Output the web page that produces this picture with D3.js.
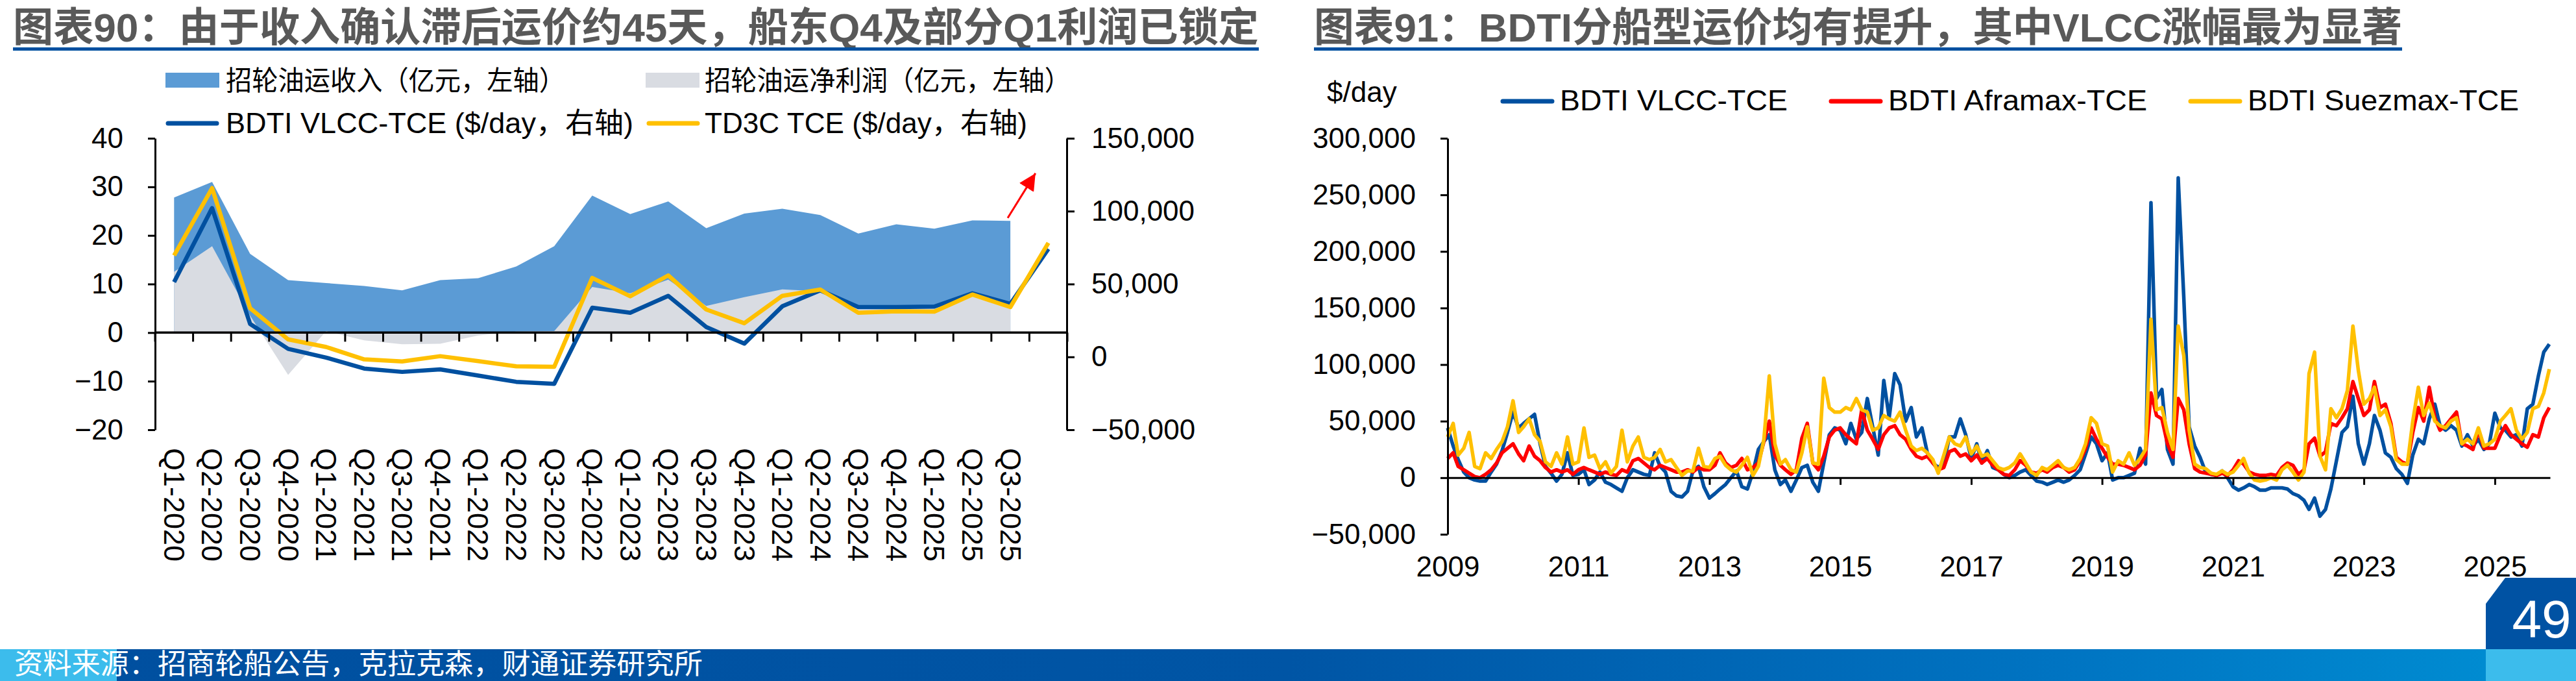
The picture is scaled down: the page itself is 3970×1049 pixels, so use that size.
<!DOCTYPE html>
<html>
<head>
<meta charset="utf-8">
<script src="https://cdn.jsdelivr.net/npm/d3@7"></script>
<style>
    body { margin: 0; background: #ffffff; }
    svg text { font-family: "Liberation Sans", Arial, "Noto Sans CJK SC", sans-serif; }
</style>
</head>
<body>
<svg id="page" width="3970" height="1049"></svg>
<script>
'use strict';

// ---------- left chart: quarterly, 招商轮船 ----------
var quarters = ['Q1-2020', 'Q2-2020', 'Q3-2020', 'Q4-2020', 'Q1-2021', 'Q2-2021', 'Q3-2021', 'Q4-2021',
    'Q1-2022', 'Q2-2022', 'Q3-2022', 'Q4-2022', 'Q1-2023', 'Q2-2023', 'Q3-2023', 'Q4-2023',
    'Q1-2024', 'Q2-2024', 'Q3-2024', 'Q4-2024', 'Q1-2025', 'Q2-2025', 'Q3-2025', ''];

// 亿元, left axis
var revenue = [27.8, 31.0, 16.2, 10.8, 10.2, 9.6, 8.7, 10.8, 11.2, 13.6, 17.8, 28.2,
    24.4, 27.0, 21.5, 24.5, 25.5, 24.2, 20.4, 22.3, 21.4, 23.1, 23.0];
var netProfit = [12.5, 17.8, 3.5, -8.7, 0.3, -1.6, -2.4, -2.3, -0.6, 0.2, 0.3, 9.4,
    8.1, 10.9, 5.5, 7.3, 8.9, 8.5, 5.5, 5.6, 5.3, 8.1, 6.0];

// $/day, right axis
var vlccTce = [51300, 102100, 22600, 5500, -500, -8000, -10300, -8600, -12800, -17100, -18500, 33700,
    30300, 41900, 20500, 9100, 34700, 45700, 34200, 34200, 34500, 43600, 36400, 74100];
var td3cTce = [69600, 115800, 33400, 12000, 6800, -1700, -3100, 500, -2900, -6500, -6800, 54200,
    41600, 55900, 32500, 23100, 41900, 46200, 30300, 31300, 31100, 42800, 34200, 78200];

var leftTicks = [-20, -10, 0, 10, 20, 30, 40];
var rightTicks = [-50000, 0, 50000, 100000, 150000];

// ---------- right chart: monthly BDTI TCE, thousand $/day, from Jan 2009 ----------
var bdtiVlcc = [
    44, 28, 16, 5, 0, -2, -3, -3, 5, 12, 24, 40,
    58, 44, 48, 52, 56, 30, 10, 4, -3, 3, 22, 2,
    3, 7, -6, -2, 5, -4, -6, -9, -12, 0, 7, 5,
    3, 2, 22, 10, 5, -12, -16, -17, -12, 6, 10, -8,
    -18, -14, -10, -6, 0, 6, -8, -10, 5, 25, 32, 38,
    7, -6, -2, -12, -2, 9, 11, -4, -12, 13, 38, 44,
    42, 30, 48, 34, 40, 70, 45, 20, 86, 53, 92, 82,
    50, 62, 36, 44, 22, 13, 9, 13, 36, 36, 52, 38,
    17, 30, 13, 24, 9, 7, 3, 0, 2, 5, 7, 2,
    -3, -4, -6, -4, -2, -4, -2, 2, 7, 21, 36, 30,
    15, 22, -2, 0, 0, 2, 4, 26, 12, 243, 70, 78,
    25, 12, 265, 160, 45, 28, 18, 5, 3, 2, 6, 0,
    -8, -11, -9, -6, -8, -11, -11, -9, -9, -9, -10, -14,
    -16, -20, -28, -18, -34, -28, -10, 15, 40, 45, 72, 30,
    12, 30, 55, 42, 22, 18, 8, 3, -5, 20, 34, 30,
    52, 65, 46, 42, 46, 42, 28, 38, 28, 34, 25, 30,
    57, 44, 42, 36, 38, 28, 61, 65, 90, 111, 118
];
var bdtiAframax = [
    17, 22, 10, 7, 4, 1, 0, 3, 7, 13, 22, 26,
    30, 21, 15, 28, 19, 15, 9, 5, 7, 5, 7, 3,
    7, 9, 7, 5, 3, 5, 3, 2, 7, 5, 15, 17,
    13, 9, 7, 11, 9, 7, 5, 5, 7, 5, 9, 7,
    7, 11, 22, 13, 9, 11, 17, 7, 9, 13, 32, 50,
    20, 11, 7, 3, 7, 35, 48, 13, 7, 19, 36, 42,
    44, 38, 34, 30, 60, 42, 34, 25, 38, 44, 46, 38,
    34, 25, 19, 17, 19, 13, 7, 9, 23, 25, 19, 21,
    15, 20, 13, 17, 11, 7, 3, 2, 7, 15, 11, 5,
    4, 7, 5, 9, 11, 9, 5, 7, 15, 26, 44, 34,
    26, 18, 12, 12, 11, 9, 7, 11, 20, 75, 55, 52,
    30, 18, 70, 60, 30, 8, 5, 4, 3, 2, 4, 2,
    7, 15, 12, 5, 3, 2, 2, 3, 2, 9, 13, 11,
    3, 7, 30, 35, 19, 23, 48, 46, 53, 61, 85, 70,
    55, 60, 85, 62, 65, 48, 18, 14, 12, 40, 62, 50,
    80, 53, 42, 46, 52, 58, 30, 28, 25, 42, 26, 26,
    26, 38, 46, 38, 34, 30, 27, 38, 36, 53, 62
];
var bdtiSuezmax = [
    36, 48, 20, 26, 40, 10, 8, 22, 17, 25, 32, 45,
    68, 40, 45, 52, 38, 32, 14, 10, 22, 12, 36, 12,
    14, 44, 18, 20, 8, 14, 4, 10, 42, 14, 28, 36,
    18, 16, 18, 25, 14, 16, 9, 2, 6, 6, 26, 10,
    9, 17, 19, 11, 7, 5, 11, 18, 2, 10, 34, 90,
    30, 12, 16, 7, 5, 22, 45, 13, 12, 88, 62, 58,
    58, 62, 60, 70, 60, 58, 42, 44, 55, 52, 50, 58,
    42, 28, 24, 26, 22, 16, 4, 20, 36, 30, 28, 36,
    21, 28, 19, 21, 15, 9, 7, 9, 13, 21, 13, 5,
    2, 9, 7, 11, 15, 9, 7, 9, 17, 30, 53, 48,
    30, 28, 5, 15, 12, 22, 11, 17, 25, 140, 60, 62,
    40, 25, 134, 108, 42, 12, 9, 8, 4, 3, 6, 3,
    5, 11, 17, 4, -2, -3, -2, 0, -2, 7, 11, 5,
    -2, 5, 92, 111, 19, 7, 61, 53, 61, 77, 134, 95,
    65, 70, 80, 55, 60, 45, 16, 12, 12, 50, 80, 55,
    66, 50, 46, 44, 50, 53, 30, 34, 30, 44, 28, 30,
    34, 50, 55, 61, 42, 34, 40, 61, 63, 75, 96
];
var bdtiTicks = [-50, 0, 50, 100, 150, 200, 250, 300];
var yearTicks = [2009, 2011, 2013, 2015, 2017, 2019, 2021, 2023, 2025];

var BLUE = '#0050a0';
var GOLD = '#ffc000';
var RED = '#ff0000';

var svg = d3.select('#page');

drawTitle('图表90：由于收入确认滞后运价约45天，船东Q4及部分Q1利润已锁定', 20, 1920);
drawTitle('图表91：BDTI分船型运价均有提升，其中VLCC涨幅最为显著', 2025, 1677);
drawLeftChart();
drawRightChart();
drawFooter();

function drawTitle(text, x, w) {
    svg.append('text')
        .attr('x', x)
        .attr('y', 64)
        .attr('textLength', w)
        .attr('lengthAdjust', 'spacingAndGlyphs')
        .style('font-family', '"Liberation Sans", "Noto Sans CJK SC", sans-serif')
        .style('font-weight', 700)
        .style('font-size', '62px')
        .style('fill', '#595959')
        .text(text);
    svg.append('rect')
        .attr('x', x)
        .attr('y', 73)
        .attr('width', w)
        .attr('height', 5)
        .attr('fill', BLUE);
}

function styleAxis(g) {
    g.attr('font-size', 44)
        .attr('font-family', '"Liberation Sans", Arial, sans-serif');
    g.select('.domain').attr('stroke', '#000').attr('stroke-width', 3);
    g.selectAll('.tick line').attr('stroke', '#000').attr('stroke-width', 3);
    g.selectAll('.tick text').attr('fill', '#000');
}

function drawLeftChart() {
    var x = d3.scaleBand().domain(quarters).range([239, 1645]);
    var cx = function(i) { return x(quarters[i]) + x.bandwidth() / 2; };
    var yL = d3.scaleLinear().domain([-20, 40]).range([662, 213]);
    var yR = d3.scaleLinear().domain([-50000, 150000]).range([662, 213]);

    var g = svg.append('g');

    var area = d3.area()
        .x(function(d, i) { return cx(i); })
        .y0(yL(0))
        .y1(function(d) { return yL(d); });

    g.append('path').datum(revenue).attr('d', area).attr('fill', '#5b9bd5');
    g.append('path').datum(netProfit).attr('d', area).attr('fill', '#d9dce2');

    var line = d3.line()
        .x(function(d, i) { return cx(i); })
        .y(function(d) { return yR(d); });

    g.append('path').datum(vlccTce).attr('d', line)
        .attr('fill', 'none').attr('stroke', BLUE).attr('stroke-width', 6.5)
        .attr('stroke-linejoin', 'round');
    g.append('path').datum(td3cTce).attr('d', line)
        .attr('fill', 'none').attr('stroke', GOLD).attr('stroke-width', 6.5)
        .attr('stroke-linejoin', 'round');

    // category axis on the zero line, ticks between quarters
    var bounds = quarters.map(function(q) { return x(q); }).concat([x.range()[1]]);
    g.append('line')
        .attr('x1', x.range()[0]).attr('x2', x.range()[1])
        .attr('y1', yL(0)).attr('y2', yL(0))
        .attr('stroke', '#000').attr('stroke-width', 3.5);
    g.selectAll('.qtick')
        .data(bounds)
        .enter()
        .append('line')
        .attr('class', 'qtick')
        .attr('x1', function(d) { return d; })
        .attr('x2', function(d) { return d; })
        .attr('y1', yL(0))
        .attr('y2', yL(0) + 14)
        .attr('stroke', '#000').attr('stroke-width', 3);

    g.selectAll('.qlabel')
        .data(quarters)
        .enter()
        .append('text')
        .attr('class', 'qlabel')
        .attr('transform', function(d, i) {
            return 'translate(' + cx(i) + ',690) rotate(90)';
        })
        .attr('dominant-baseline', 'central')
        .attr('font-size', 45)
        .text(function(d) { return d; });

    g.append('g')
        .attr('transform', 'translate(239,0)')
        .call(d3.axisLeft(yL).tickValues(leftTicks).tickSize(11).tickSizeOuter(0)
            .tickPadding(38).tickFormat(d3.format('d')))
        .call(styleAxis);

    g.append('g')
        .attr('transform', 'translate(1644,0)')
        .call(d3.axisRight(yR).tickValues(rightTicks).tickSize(12).tickSizeOuter(0)
            .tickPadding(26).tickFormat(d3.format(',')))
        .call(styleAxis);

    // red arrow: from Q3-2025 towards the upper right
    svg.append('defs').append('marker')
        .attr('id', 'redHead')
        .attr('markerUnits', 'userSpaceOnUse')
        .attr('markerWidth', 30).attr('markerHeight', 26)
        .attr('refX', 26).attr('refY', 13)
        .attr('orient', 'auto')
        .append('path')
        .attr('d', 'M0,0 L26,13 L0,26 Z')
        .attr('fill', RED);
    var step = x.step();
    g.append('line')
        .attr('x1', cx(22) - 0.07 * step).attr('y1', yL(23.6))
        .attr('x2', cx(22) + 0.66 * step).attr('y2', yL(32.8))
        .attr('stroke', RED).attr('stroke-width', 3)
        .attr('marker-end', 'url(#redHead)');

    // legend
    var lg = svg.append('g');
    lg.append('rect').attr('x', 255).attr('y', 112).attr('width', 83).attr('height', 23).attr('fill', '#5b9bd5');
    lg.append('rect').attr('x', 995).attr('y', 112).attr('width', 83).attr('height', 23).attr('fill', '#d9dce2');
    lg.append('line').attr('x1', 259).attr('x2', 334).attr('y1', 190).attr('y2', 190)
        .attr('stroke', BLUE).attr('stroke-width', 7).attr('stroke-linecap', 'round');
    lg.append('line').attr('x1', 1000).attr('x2', 1075).attr('y1', 190).attr('y2', 190)
        .attr('stroke', GOLD).attr('stroke-width', 7).attr('stroke-linecap', 'round');

    var items = [
        { text: '招轮油运收入（亿元，左轴）', x: 348, y: 124, w: 523, size: 42 },
        { text: '招轮油运净利润（亿元，左轴）', x: 1086, y: 124, w: 564, size: 42 },
        { text: 'BDTI VLCC-TCE ($/day，右轴)', x: 348, y: 189, w: 628, size: 44 },
        { text: 'TD3C TCE ($/day，右轴)', x: 1086, y: 189, w: 497, size: 44 }
    ];
    lg.selectAll('.ltext')
        .data(items)
        .enter()
        .append('text')
        .attr('class', 'ltext')
        .attr('x', function(d) { return d.x; })
        .attr('y', function(d) { return d.y; })
        .attr('dominant-baseline', 'central')
        .attr('font-size', function(d) { return d.size; })
        .attr('textLength', function(d) { return d.w; })
        .attr('lengthAdjust', 'spacingAndGlyphs')
        .text(function(d) { return d.text; });
}

function drawRightChart() {
    var start = new Date(2009, 0, 1);
    var dates = bdtiVlcc.map(function(d, i) { return d3.timeMonth.offset(start, i); });

    var x = d3.scaleTime().domain([start, new Date(2025, 10, 5)]).range([2231, 3930]);
    var y = d3.scaleLinear().domain([-50, 300]).range([823, 213]);

    var g = svg.append('g');

    var line = d3.line()
        .x(function(d, i) { return x(dates[i]); })
        .y(function(d) { return y(d); });

    var series = [
        { values: bdtiVlcc, color: BLUE },
        { values: bdtiAframax, color: RED },
        { values: bdtiSuezmax, color: GOLD }
    ];
    series.forEach(function(s) {
        g.append('path').datum(s.values).attr('d', line)
            .attr('fill', 'none').attr('stroke', s.color).attr('stroke-width', 5.5)
            .attr('stroke-linejoin', 'round');
    });

    g.append('g')
        .attr('transform', 'translate(2231,0)')
        .call(d3.axisLeft(y).tickValues(bdtiTicks).tickSize(11).tickSizeOuter(0)
            .tickPadding(38).tickFormat(function(d) { return d3.format(',')(d * 1000); }))
        .call(styleAxis);

    g.append('g')
        .attr('transform', 'translate(0,' + y(0) + ')')
        .call(d3.axisBottom(x)
            .tickValues(yearTicks.map(function(yr) { return new Date(yr, 0, 1); }))
            .tickSize(11).tickSizeOuter(0).tickPadding(110)
            .tickFormat(d3.timeFormat('%Y')))
        .call(styleAxis);

    svg.append('text')
        .attr('x', 2045).attr('y', 157)
        .attr('font-size', 44)
        .text('$/day');

    var legend = [
        { name: 'BDTI VLCC-TCE', color: BLUE, x: 2312, w: 351 },
        { name: 'BDTI Aframax-TCE', color: RED, x: 2818, w: 399 },
        { name: 'BDTI Suezmax-TCE', color: GOLD, x: 3372, w: 418 }
    ];
    var lg = svg.selectAll('.rlegend')
        .data(legend)
        .enter()
        .append('g')
        .attr('class', 'rlegend')
        .attr('transform', function(d) { return 'translate(' + d.x + ',156)'; });
    lg.append('line')
        .attr('x1', 4).attr('x2', 80)
        .attr('stroke', function(d) { return d.color; })
        .attr('stroke-width', 7).attr('stroke-linecap', 'round');
    lg.append('text')
        .attr('x', 92).attr('y', 14)
        .attr('font-size', 45)
        .attr('textLength', function(d) { return d.w; })
        .attr('lengthAdjust', 'spacingAndGlyphs')
        .text(function(d) { return d.name; });
}

function drawFooter() {
    var grad = svg.append('defs').append('linearGradient')
        .attr('id', 'bannerGrad')
        .attr('x1', 0).attr('x2', 1).attr('y1', 0).attr('y2', 0);
    grad.append('stop').attr('offset', '0%').attr('stop-color', '#004f9f');
    grad.append('stop').attr('offset', '50%').attr('stop-color', '#0055a5');
    grad.append('stop').attr('offset', '80%').attr('stop-color', '#0074c2');
    grad.append('stop').attr('offset', '100%').attr('stop-color', '#0090d4');

    svg.append('rect').attr('x', 0).attr('y', 1000).attr('width', 3970).attr('height', 49)
        .attr('fill', 'url(#bannerGrad)');
    svg.append('rect').attr('x', 0).attr('y', 1000).attr('width', 180).attr('height', 49)
        .attr('fill', '#3cbcec');
    svg.append('rect').attr('x', 3831).attr('y', 1000).attr('width', 139).attr('height', 49)
        .attr('fill', '#3cbcec');
    svg.append('path')
        .attr('d', 'M3831,930 L3861,890 L3970,890 L3970,1000 L3831,1000 Z')
        .attr('fill', '#0052a3');
    svg.append('text')
        .attr('x', 3917).attr('y', 982)
        .attr('text-anchor', 'middle')
        .attr('font-size', 82)
        .attr('fill', '#fff')
        .text('49');

    svg.append('text')
        .attr('x', 22).attr('y', 1038)
        .style('font-family', '"Liberation Sans", "Noto Sans CJK SC", sans-serif')
        .attr('font-size', 43)
        .attr('textLength', 1061)
        .attr('lengthAdjust', 'spacingAndGlyphs')
        .attr('fill', '#fff')
        .text('资料来源：招商轮船公告，克拉克森，财通证券研究所');
}
</script>
</body>
</html>
